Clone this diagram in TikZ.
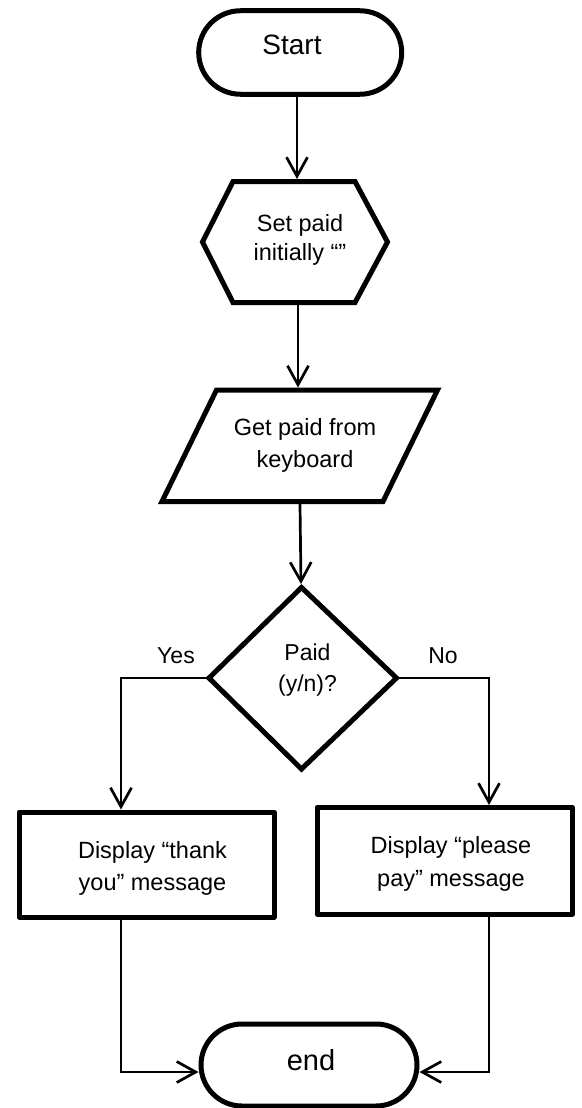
\documentclass[tikz,border=0pt]{standalone}
\usepackage{fontspec}
\setmainfont{Liberation Sans}
\usetikzlibrary{arrows.meta,shapes.misc}

% stacked, centred lines whose base is the first line's baseline
\newcommand{\flowtext}[3]{\fontsize{#1}{#2}\selectfont\setlength{\tabcolsep}{0pt}\begin{tabular}[t]{c}#3\end{tabular}}

\tikzset{
  shapeline/.style={line width=5pt, line join=miter},
  terminal/.style={draw, shapeline, rounded rectangle, inner sep=0pt},
  procbox/.style={draw, shapeline, line join=round, rectangle, inner sep=0pt},
  txt/.style={inner sep=0pt, anchor=base},
  flow/.style={line width=2.7pt, -{Straight Barb[length=19pt,width=21pt]}},
}

\begin{document}
\begin{tikzpicture}[x=1pt,y=-1pt]
  \fill[white] (0,0) rectangle (581,1108);
  \useasboundingbox (0,0) rectangle (581,1108);

  % terminals
  \node[terminal, minimum width=203pt, minimum height=83.5pt] (start) at (300.2,52.5) {};
  \node[txt] (startlabel) at (292,55) {\fontsize{28}{34}\selectfont Start};

  \node[terminal, minimum width=216pt, minimum height=82pt] (stop) at (309,1065) {};
  \node[txt] (stoplabel) at (311,1070.7) {\fontsize{29}{34}\selectfont end};

  % preparation (hexagon)
  \draw[shapeline] (233,181.5) -- (355,181.5) -- (387.5,242) -- (355,302.5)
                   -- (233,302.5) -- (202.5,242) -- cycle;
  \coordinate (hexN) at (297,179);
  \coordinate (hexS) at (298,305);
  \node[txt] (hexlabel) at (300,231) {\flowtext{23.5}{29}{Set paid\\initially “”}};

  % input (parallelogram)
  \draw[shapeline] (216.5,390) -- (437.5,390) -- (383,501.5) -- (162,501.5) -- cycle;
  \coordinate (ioN) at (298,387.5);
  \coordinate (ioS) at (300,504);
  \node[txt] (iolabel) at (305,435) {\flowtext{23.5}{32}{Get paid from\\keyboard}};

  % decision (diamond)
  \draw[shapeline] (301.5,587.5) -- (396.5,678) -- (301.5,769) -- (209,678) -- cycle;
  \coordinate (decN) at (301,584);
  \coordinate (decW) at (209,678);
  \coordinate (decE) at (396.5,678);
  \node[txt] (declabel) at (307.5,660) {\flowtext{23}{31}{Paid\\(y/n)?}};
  \node[txt] (yeslabel) at (176,663) {\fontsize{23}{28}\selectfont Yes};
  \node[txt] (nolabel) at (443,663) {\fontsize{23}{28}\selectfont No};

  % process boxes
  \node[procbox, minimum width=255pt, minimum height=105pt] (yesbox) at (146.5,864.5) {};
  \node[txt] (yeslbl) at (152.5,858) {\flowtext{23.5}{32}{Display “thank\\you” message}};
  \node[procbox, minimum width=255.5pt, minimum height=106.5pt] (nobox) at (444.75,860.75) {};
  \node[txt] (nolbl) at (451,853) {\flowtext{23.5}{33}{Display “please\\pay” message}};

  % routing points
  \coordinate (yesturn) at (121,678);
  \coordinate (noturn) at (489,678);
  \coordinate (joinL) at (121,1072);
  \coordinate (joinR) at (489,1072);

  % connectors
  \draw[flow] (start.south -| hexN) -- (hexN);
  \draw[flow] (hexS) -- (ioN);
  \draw[flow] (ioS) -- (decN);
  \draw[flow] (decW) -- (yesturn) -- (yesturn |- yesbox.north);
  \draw[flow] (decE) -- (noturn) -- (noturn |- nobox.north);
  \draw[flow] (yesbox.south -| joinL) -- (joinL) -- (joinL -| stop.west);
  \draw[flow] (nobox.south -| joinR) -- (joinR) -- (joinR -| stop.east);
\end{tikzpicture}
\end{document}
